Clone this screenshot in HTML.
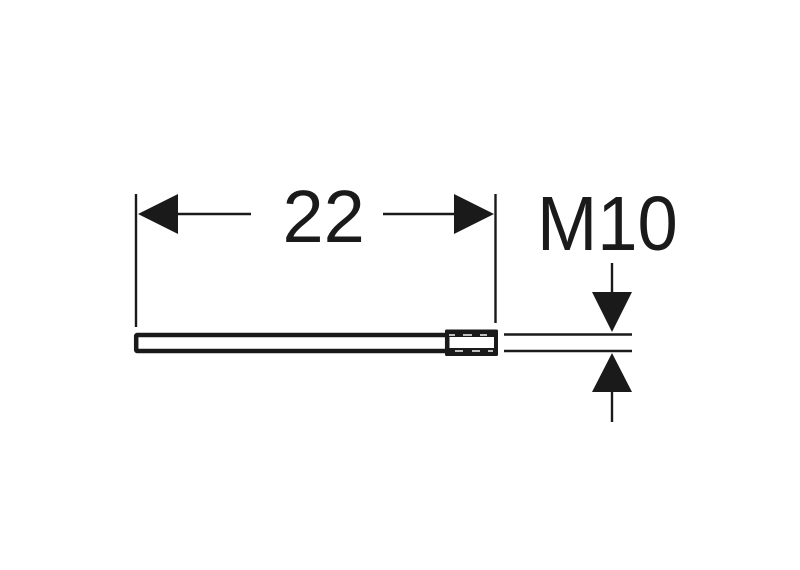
<!DOCTYPE html>
<html>
<head>
<meta charset="utf-8">
<style>
html,body{margin:0;padding:0;background:#fff;}
svg{display:block;}
text{font-family:"Liberation Sans",sans-serif;fill:#1a1a1a;}
</style>
</head>
<body>
<svg width="800" height="570" viewBox="0 0 800 570" xmlns="http://www.w3.org/2000/svg">
<rect width="800" height="570" fill="#fff"/>
<g stroke="#1a1a1a" fill="none">
<path d="M136 194V327" stroke-width="2.400"/>
<path d="M495.500 194V323" stroke-width="2.400"/>
<path d="M178 214H251" stroke-width="2.400"/>
<path d="M383 214H455" stroke-width="2.400"/>
<rect x="136.200" y="335" width="311" height="16" stroke-width="4.500" rx="1"/>
<path d="M504 334.500H632M504 351H632" stroke-width="2.400"/>
<path d="M612 263V293M612 392V422" stroke-width="2.400"/>
</g>
<path fill="#1a1a1a" fill-rule="evenodd" d="M446.500 329.500H496.500Q498 329.500 498 331V354.500Q498 356 496.500 356H446.500Q445 356 445 354.500V331Q445 329.500 446.500 329.500ZM449.500 337V348H494V337Z"/>
<g stroke="#d8d8d8" stroke-width="1.800" fill="none">
<path d="M449 335H455M463 335H472M480 335H487"/>
<path d="M455 351H463M472 351H480M488 351H493"/>
</g>
<g fill="#1a1a1a">
<polygon points="138,214 178,194 178,234"/>
<polygon points="494,214 454,194 454,234"/>
<polygon points="612,332 592,292 632,292"/>
<polygon points="612,353 592,392 632,392"/>
</g>
<text x="282.500" y="242" font-size="74">22</text>
<text transform="translate(537 250) scale(0.94 1)" font-size="77">M10</text>
</svg>
</body>
</html>
